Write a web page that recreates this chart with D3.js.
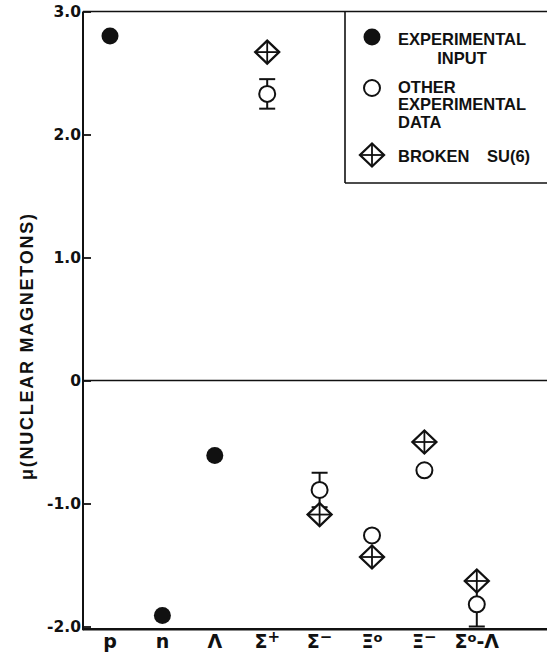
<!DOCTYPE html>
<html>
<head>
<meta charset="utf-8">
<script src="https://cdn.jsdelivr.net/npm/d3@7"></script>
<style>
  html, body { margin: 0; padding: 0; background: #fff; }
</style>
</head>
<body>
<svg id="chart" width="547" height="653" font-family="Liberation Sans, DejaVu Sans, sans-serif" font-weight="bold" fill="#111"></svg>
<script>
// Baryon magnetic moments (nuclear magnetons)
const categories = ["p", "n", "Λ", "Σ+", "Σ-", "Ξ0", "Ξ-", "Σ0Λ"];
const categoryLabels = [
  ["p", ""], ["n", ""], ["Λ", ""], ["Σ", "+"], ["Σ", "−"], ["Ξ", "o"], ["Ξ", "−"], ["Σ", "o-Λ"]
];

// input moments (filled circles)
const inputCats = ["p", "n", "Λ"];
const inputVals = [2.80, -1.91, -0.61];

// other measured moments with errors (open circles)
const otherCats = ["Σ+", "Σ-", "Ξ0", "Ξ-", "Σ0Λ"];
const otherVals = [2.33, -0.89, -1.26, -0.73, -1.82];
const otherErrs = [0.12, 0.14, null, null, 0.18];

// broken SU(6) predictions (crossed diamonds)
const su6Cats = ["Σ+", "Σ-", "Ξ0", "Ξ-", "Σ0Λ"];
const su6Vals = [2.67, -1.09, -1.435, -0.50, -1.63];

const yTicks = [3, 2, 1, 0, -1, -2];

const svg = d3.select("#chart");
const W = 547;
const axisX = 83;

const x = d3.scalePoint().domain(categories).range([110, 476.8]);
const y = d3.scaleLinear().domain([-2, 3]).range([626.5, 11.5]);
const yBottom = y(-2.022);

const ink = "#111";

// frame lines: top, zero, bottom
svg.append("line").attr("x1", axisX).attr("x2", W).attr("y1", y(3)).attr("y2", y(3))
  .attr("stroke", ink).attr("stroke-width", 1.6);
svg.append("line").attr("x1", axisX).attr("x2", W).attr("y1", y(0)).attr("y2", y(0))
  .attr("stroke", ink).attr("stroke-width", 1.6);
svg.append("line").attr("x1", axisX).attr("x2", W).attr("y1", yBottom).attr("y2", yBottom)
  .attr("stroke", ink).attr("stroke-width", 2.6);

// y axis with inward ticks
const yAxis = d3.axisLeft(y)
  .tickValues(yTicks)
  .tickSize(-8)
  .tickPadding(2)
  .tickFormat(d => d === 0 ? "0" : d3.format(".1f")(d).replace("−", "-"));

const gy = svg.append("g").attr("transform", `translate(${axisX},0)`).call(yAxis);
gy.attr("font-family", "DejaVu Sans").attr("font-size", 15.5).attr("font-weight", "bold");
gy.select(".domain").remove();
gy.selectAll(".tick line").attr("stroke", ink).attr("stroke-width", 1.8);
gy.selectAll(".tick text").attr("fill", ink);
svg.append("line").attr("x1", axisX).attr("x2", axisX).attr("y1", y(3)).attr("y2", yBottom + 1)
  .attr("stroke", ink).attr("stroke-width", 2);

// y axis title
svg.append("text")
  .attr("transform", `translate(33,${347}) rotate(-90)`)
  .attr("text-anchor", "middle")
  .attr("font-size", 18)
  .attr("textLength", 266)
  .attr("lengthAdjust", "spacing")
  .text("μ(NUCLEAR  MAGNETONS)");

// category labels
const catG = svg.append("g").attr("font-family", "DejaVu Sans");
categories.forEach((c, i) => {
  const [base, sup] = categoryLabels[i];
  const t = catG.append("text")
    .attr("x", x(c))
    .attr("y", 647.5)
    .attr("text-anchor", "middle")
    .attr("font-size", 19);
  t.append("tspan").text(base);
  if (sup) {
    if (sup.startsWith("o-")) {
      t.append("tspan").attr("font-size", 13).attr("dy", -6).text("o");
      t.append("tspan").attr("dy", 6).text("-Λ");
    } else if (sup === "o") {
      t.append("tspan").attr("font-size", 13).attr("dy", -6).text("o");
    } else {
      t.append("tspan").attr("font-size", 15).attr("dy", -6).text(sup);
    }
  }
});

// error bars
const capW = 8;
const errG = svg.append("g").attr("stroke", ink).attr("stroke-width", 2).attr("fill", "none");
otherCats.forEach((c, i) => {
  const e = otherErrs[i];
  if (e == null) return;
  const cx = x(c), y0 = y(otherVals[i] - e), y1 = y(otherVals[i] + e);
  errG.append("line").attr("x1", cx).attr("x2", cx).attr("y1", y0).attr("y2", y1);
  errG.append("line").attr("x1", cx - capW).attr("x2", cx + capW).attr("y1", y0).attr("y2", y0);
  errG.append("line").attr("x1", cx - capW).attr("x2", cx + capW).attr("y1", y1).attr("y2", y1);
});

// marker drawers
function filledCircle(g, cx, cy) {
  g.append("circle").attr("cx", cx).attr("cy", cy).attr("r", 8.5).attr("fill", ink);
}
function openCircle(g, cx, cy) {
  g.append("circle").attr("cx", cx).attr("cy", cy).attr("r", 8)
    .attr("fill", "#fff").attr("stroke", ink).attr("stroke-width", 2);
}
function crossDiamond(g, cx, cy) {
  const hw = 12, hh = 11.5;
  const d = g.append("g").attr("transform", `translate(${cx},${cy})`)
    .attr("stroke", ink).attr("stroke-width", 2.3).attr("stroke-linejoin", "miter");
  d.append("path").attr("d", `M0,${-hh}L${hw},0L0,${hh}L${-hw},0Z`).attr("fill", "#fff");
  d.append("line").attr("x1", -hw).attr("x2", hw).attr("y1", 0).attr("y2", 0).attr("stroke-width", 1.8);
  d.append("line").attr("x1", 0).attr("x2", 0).attr("y1", -hh).attr("y2", hh).attr("stroke-width", 1.8);
}

const markG = svg.append("g");
inputCats.forEach((c, i) => filledCircle(markG, x(c), y(inputVals[i])));
otherCats.forEach((c, i) => openCircle(markG, x(c), y(otherVals[i])));
su6Cats.forEach((c, i) => crossDiamond(markG, x(c), y(su6Vals[i])));

// legend
const lg = svg.append("g");
const boxL = 345, boxB = 183;
lg.append("line").attr("x1", boxL).attr("x2", boxL).attr("y1", y(3)).attr("y2", boxB)
  .attr("stroke", ink).attr("stroke-width", 1.6);
lg.append("line").attr("x1", boxL).attr("x2", W).attr("y1", boxB).attr("y2", boxB)
  .attr("stroke", ink).attr("stroke-width", 1.6);

const symX = 372, textX = 398, fs = 16.5;
filledCircle(lg, symX, 37);
lg.append("text").attr("x", textX).attr("y", 45).attr("font-size", fs).text("EXPERIMENTAL");
lg.append("text").attr("x", 462).attr("y", 64).attr("font-size", fs).attr("text-anchor", "middle").text("INPUT");

openCircle(lg, symX, 88);
lg.append("text").attr("x", textX).attr("y", 93).attr("font-size", fs).text("OTHER");
lg.append("text").attr("x", textX).attr("y", 110).attr("font-size", fs).text("EXPERIMENTAL");
lg.append("text").attr("x", textX).attr("y", 128).attr("font-size", fs).text("DATA");

crossDiamond(lg, symX, 155);
lg.append("text").attr("x", textX).attr("y", 162).attr("font-size", fs).text("BROKEN");
lg.append("text").attr("x", 487).attr("y", 162).attr("font-size", fs).text("SU(6)");
</script>
</body>
</html>
